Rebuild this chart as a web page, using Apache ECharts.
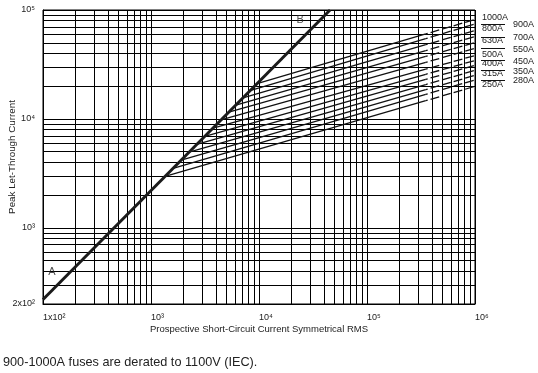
<!DOCTYPE html>
<html>
<head>
<meta charset="utf-8">
<script src="https://cdn.jsdelivr.net/npm/echarts@6/dist/echarts.min.js"></script>
<style>
html,body{margin:0;padding:0;background:#fff;}
#c{width:538px;height:373px;}
</style>
</head>
<body>
<div id="c"></div>
<script>
// ---- data ----
const xTickValues = [100, 1000, 10000, 100000, 1000000];
const xTickLabels = ['1x10\u00b2', '10\u00b3', '10\u2074', '10\u2075', '10\u2076'];
const yTickValues = [200, 1000, 10000, 100000];
const yTickLabels = ['2x10\u00b2', '10\u00b3', '10\u2074', '10\u2075'];

const xMinorGrid = [200,300,400,500,600,700,800,900, 2000,3000,4000,5000,6000,7000,8000,9000,
  20000,30000,40000,50000,60000,70000,80000,90000, 200000,300000,400000,500000,600000,700000,800000,900000];
const yMinorGrid = [300,400,500,600,700,800,900, 2000,3000,4000,5000,6000,7000,8000,9000,
  20000,30000,40000,50000,60000,70000,80000,90000];

// line A-B (prospective peak)
const abCurrent = [100, 45500];
const abPeak = [220, 100000];

// fuse let-through curves
const ratings    = ['250A','280A','315A','350A','400A','450A','500A','550A','630A','700A','800A','900A','1000A'];
const labelSide  = ['L','R','L','R','L','R','L','R','L','R','L','R','L'];
const kneeCurrent= [1350, 1600, 1900, 2250, 2650, 3150, 3750, 4450, 5250, 6100, 7100, 8250, 9600];
const kneePeak   = [2970, 3520, 4180, 4950, 5830, 6930, 8250, 9790, 11550, 13420, 15620, 18150, 21120];
const breakCurrent = 350000;
const breakPeak  = [14700, 16800, 18600, 20700, 23100, 25700, 28600, 33100, 37500, 42400, 48000, 54600, 60300];
const endCurrent = 1000000;
const endPeak    = [19900, 22800, 25100, 27900, 31000, 34400, 38200, 44400, 50300, 57100, 64900, 74400, 81800];

// A / B labels
const markA = [121, 395];
const markB = [24000, 80200];

// ---- chart ----
const FONT = 'Liberation Sans, Arial, sans-serif';
const TXT = '#222';
function lookup(v, vals, labels){
  for (let i=0;i<vals.length;i++){
    if (Math.abs(Math.log10(v) - Math.log10(vals[i])) < 0.01) return labels[i];
  }
  return '';
}
const gridLine = {color:'#000', width:1, type:'solid'};

const series = [];
series.push({
  type:'line', name:'AB', data: abCurrent.map((c,i)=>[c, abPeak[i]]),
  symbol:'none', lineStyle:{color:'#1a1a1a', width:3}, z:5, silent:true,
  markLine:{
    silent:true, symbol:['none','none'], label:{show:false}, animation:false,
    lineStyle:gridLine, z:1,
    data: xMinorGrid.map(v=>({xAxis:v})).concat(yMinorGrid.map(v=>({yAxis:v})))
  }
});
ratings.forEach((r,i)=>{
  series.push({
    type:'line', name:r+'s', data:[[kneeCurrent[i], kneePeak[i]],[breakCurrent, breakPeak[i]]],
    symbol:'none', lineStyle:{color:'#111', width:1.3}, z:4, silent:true
  });
  series.push({
    type:'line', name:r+'d', data:[[breakCurrent, breakPeak[i]],[endCurrent, endPeak[i]]],
    symbol:'none', lineStyle:{color:'#111', width:1.3, type:[9,3], dashOffset:7}, z:4, silent:true,
    clip:false
  });
});
series.push({
  type:'scatter', data:[{value:markA, label:{formatter:'A'}},{value:markB, label:{formatter:'B'}}],
  symbolSize:1, itemStyle:{color:'rgba(0,0,0,0)'},
  label:{show:true, position:'inside', fontFamily:FONT, fontSize:11, color:TXT},
  silent:true, z:6
});

const chart = echarts.init(document.getElementById('c'), null, {renderer:'canvas'});
chart.setOption({
  animation:false,
  backgroundColor:'#fff',
  grid:{left:43, top:10, width:432, height:294, show:true, borderColor:'#000', borderWidth:1,
    containLabel:false, outerBoundsMode:'none'},
  xAxis:{
    type:'log', logBase:10, min:100, max:1000000,
    name:'Prospective Short-Circuit Current Symmetrical RMS', nameLocation:'middle', nameGap:20,
    nameMoveOverlap:false,
    nameTextStyle:{fontFamily:FONT, fontSize:9.5, color:TXT},
    axisLine:{show:true, lineStyle:{color:'#000', width:1}},
    axisTick:{show:false},
    axisLabel:{show:true, margin:9, align:'left', fontFamily:FONT, fontSize:9, color:TXT,
      formatter:v=>lookup(v, xTickValues, xTickLabels), showMinLabel:true, showMaxLabel:true},
    splitLine:{show:true, lineStyle:gridLine},
    minorTick:{show:false}, minorSplitLine:{show:false}
  },
  yAxis:{
    type:'log', logBase:10, min:200, max:100000,
    name:'Peak Let-Through Current', nameLocation:'middle', nameGap:26, nameRotate:90,
    nameMoveOverlap:false,
    nameTextStyle:{fontFamily:FONT, fontSize:9.8, color:TXT},
    axisLine:{show:true, lineStyle:{color:'#000', width:1}},
    axisTick:{show:false},
    axisLabel:{show:true, margin:8, fontFamily:FONT, fontSize:9, color:TXT,
      formatter:v=>lookup(v, yTickValues, yTickLabels), showMinLabel:true, showMaxLabel:true},
    splitLine:{show:true, lineStyle:gridLine},
    minorTick:{show:false}, minorSplitLine:{show:false}
  },
  series: series
});

// rating labels and leader lines placed through the chart's own scales
const gfx = [{
  type:'text', left:3, top:356,
  style:{text:'900-1000A fuses are derated to 1100V (IEC).', fontFamily:FONT, fontSize:12.7, fill:TXT}
}];
ratings.forEach((r,i)=>{
  const p = chart.convertToPixel({gridIndex:0}, [endCurrent, endPeak[i]]);
  if (labelSide[i]==='L'){
    gfx.push({type:'text', x:p[0]+7, y:p[1]-1.5, silent:true,
      style:{text:r, fontFamily:FONT, fontSize:9, fill:TXT, verticalAlign:'middle', align:'left'}});
  } else {
    gfx.push({type:'line', silent:true, shape:{x1:p[0]+6, y1:Math.round(p[1])+0.5, x2:p[0]+30, y2:Math.round(p[1])+0.5},
      style:{stroke:'#111', lineWidth:1}});
    gfx.push({type:'text', x:p[0]+38, y:p[1]+1, silent:true,
      style:{text:r, fontFamily:FONT, fontSize:9, fill:TXT, verticalAlign:'middle', align:'left'}});
  }
});
chart.setOption({graphic:gfx});
</script>
</body>
</html>
